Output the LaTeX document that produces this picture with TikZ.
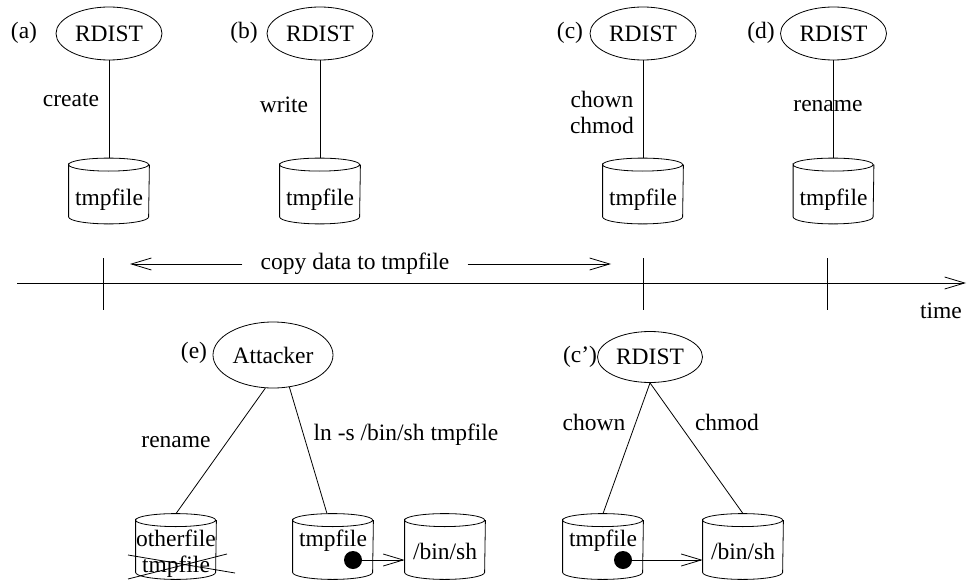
\documentclass[tikz,border=0pt]{standalone}
\usepackage{fontspec}
\setmainfont{Liberation Serif}
\usetikzlibrary{arrows.meta,shapes.geometric}
\begin{document}
\begin{tikzpicture}[x=1pt,y=-1pt, line width=0.8pt,
  every node/.style={font=\fontsize{23.5}{27}\selectfont},
  proc/.style={draw, ellipse, inner sep=0pt, minimum width=106pt, minimum height=53pt},
  cylbox/.style={inner sep=0pt, minimum width=80pt, minimum height=65pt},
  txt/.style={inner sep=0pt, align=center},
  arr/.style={-{Straight Barb[length=20pt,width=12pt]}, line join=miter},
  dot/.style={circle, fill, inner sep=0pt, minimum size=18pt}]
\useasboundingbox (0,0) rectangle (968,583);

% ---------- top row ----------
\node[proc] (ra) at (109,33.5) {RDIST};
\node[txt] at (24,33) {(a)};
\node[cylbox] (ca) at (109,191) {};
\node[txt, anchor=base] at (109,205) {tmpfile};
\draw (ra) -- (ca.north);
\node[txt] at (71,100) {create};

\node[proc] (rb) at (320,33.5) {RDIST};
\node[txt] at (244,33) {(b)};
\node[cylbox] (cb) at (320,191) {};
\node[txt, anchor=base] at (320,205) {tmpfile};
\draw (rb) -- (cb.north);
\node[txt] at (284,105) {write};

\node[proc] (rc) at (643,33.5) {RDIST};
\node[txt] at (570,33) {(c)};
\node[cylbox] (cc) at (643,191) {};
\node[txt, anchor=base] at (643,205) {tmpfile};
\draw (rc) -- (cc.north);
\node[txt] at (602,112) {chown\\[-1pt]chmod};

\node[proc] (rd) at (833.5,33.5) {RDIST};
\node[txt] at (761,33) {(d)};
\node[cylbox] (cd) at (833.5,191) {};
\node[txt, anchor=base] at (833.5,205) {tmpfile};
\draw (rd) -- (cd.north);
\node[txt] at (828,106) {rename};

% ---------- time line ----------
\coordinate (t0) at (17,283);
\coordinate (t1) at (966,283);
\draw[arr] (t0) -- (t1);
\draw (103,258) -- (103,310);
\draw (643,258) -- (643,310);
\draw (827,258) -- (827,310);
\node[txt] at (941,311) {time};
\node[txt, inner xsep=18pt] (cp) at (355,264) {copy data to tmpfile};
\coordinate (cpl) at (130,264);
\coordinate (cpr) at (611,264);
\draw[arr] (cp.west) -- (cpl);
\draw[arr] (cp.east) -- (cpr);

% ---------- attacker ----------
\node[proc, minimum width=120pt, minimum height=66pt] (att) at (273,355) {Attacker};
\node[txt] at (194,353) {(e)};
\node[cylbox] (co) at (176,546.5) {};
\node[txt, anchor=base] at (176,546) {otherfile};
\node[txt, anchor=base] at (176,572) {tmpfile};
\draw (128,555) -- (235,573);
\draw (128,579) -- (227,554);
\node[cylbox] (ct) at (333,546.5) {};
\node[txt, anchor=base] at (333,546.5) {tmpfile};
\node[cylbox] (cs) at (445,546.5) {};
\node[txt, anchor=base] at (445,559.5) {/bin/sh};
\node[dot] (d1) at (353,560) {};
\draw[arr] (d1) -- (d1 -| cs.west);
\draw (att.257) -- (co.north);
\draw (att.297) -- ([xshift=-6pt]ct.north);
\node[txt] at (176,442) {rename};
\node[txt] at (406,435) {ln -s /bin/sh tmpfile};

% ---------- c' ----------
\node[proc, minimum width=105pt, minimum height=51pt] (rc2) at (650,357) {RDIST};
\node[txt] at (580,357) {(c’)};
\node[cylbox] (cu) at (603,546.5) {};
\node[txt, anchor=base] at (603,546.5) {tmpfile};
\node[cylbox] (cv) at (743,546.5) {};
\node[txt, anchor=base] at (743,559.5) {/bin/sh};
\node[dot] (d2) at (623,560) {};
\draw[arr] (d2) -- (d2 -| cv.west);
\draw (rc2.south) -- (cu.north);
\draw (rc2.south) -- (cv.north);
\node[txt] at (594,422) {chown};
\node[txt] at (727,422) {chmod};

% ---------- cylinder outlines ----------
\foreach \n in {ca,cb,cc,cd,co,ct,cs,cu,cv}{
  \draw ([yshift=-6.5pt]\n.north west)
     arc[start angle=180,end angle=-180,x radius=40pt,y radius=6.5pt]
     -- ([yshift=7pt]\n.south west)
     arc[start angle=180,end angle=360,x radius=40pt,y radius=7pt]
     -- ([yshift=-6.5pt]\n.north east);
}
\end{tikzpicture}
\end{document}
